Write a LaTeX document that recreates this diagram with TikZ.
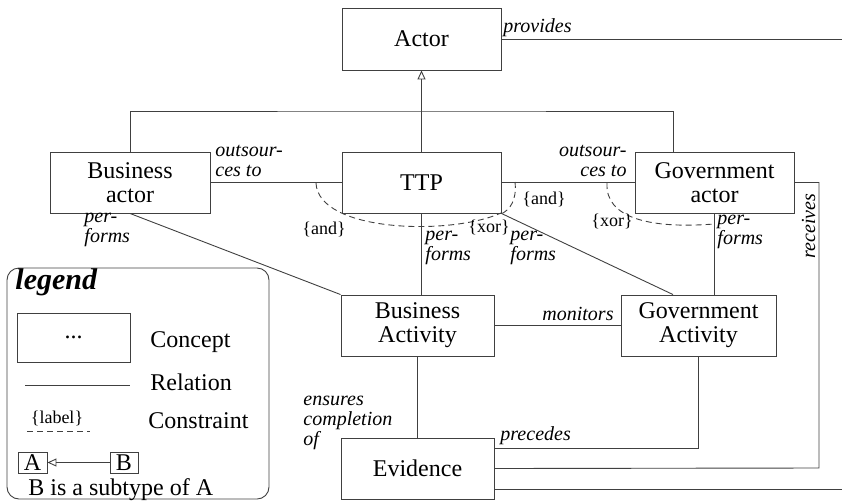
\documentclass[tikz,border=0pt]{standalone}
\usepackage{fontspec}
\setmainfont{Liberation Serif}
\usetikzlibrary{arrows.meta}

\begin{document}
\begin{tikzpicture}[x=1pt,y=-1pt,line width=0.9pt,draw=black!75,
  concept/.style={draw,align=center,inner sep=0pt,font=\fontsize{24}{24}\selectfont},
  rel/.style={inner sep=0pt,font=\fontsize{20}{20}\selectfont\itshape},
  cons/.style={inner sep=0pt,font=\fontsize{18}{18}\selectfont},
  constr/.style={dash pattern=on 6pt off 4pt},
  subtype/.style={-{Triangle[open,width=8pt,length=9pt]}}]
  \useasboundingbox (0,0) rectangle (842,501);

  % concepts
  \node[concept,minimum width=159pt,minimum height=62pt] (actor) at (421.5,39) {Actor};
  \node[concept,minimum width=160pt,minimum height=61pt] (bact) at (130,182.5) {Business\\actor};
  \node[concept,minimum width=159pt,minimum height=61pt] (ttp) at (421.5,182.5) {TTP};
  \node[concept,minimum width=159pt,minimum height=61pt] (gact) at (714.5,182.5) {Government\\actor};
  \node[concept,minimum width=153pt,minimum height=61pt] (bactv) at (417.5,325.5) {Business\\Activity};
  \node[concept,minimum width=155pt,minimum height=61pt] (gactv) at (698.5,325.5) {Government\\Activity};
  \node[concept,minimum width=153pt,minimum height=61pt] (evid) at (417.5,468.5) {Evidence};

  % subtypes of Actor
  \coordinate (bar) at (421.5,111);
  \coordinate (gtop) at (673,152);
  \draw[subtype] (ttp.north) -- (actor.south);
  \draw (bact.north) |- (bar) -| (gtop);

  % relations
  \draw (actor.east) -| (843,489) -- ([yshift=-20.5pt]evid.east);
  \node[rel,anchor=base west] (provides) at (503,32) {provides};
  \draw (bact.east) -- (ttp.west);
  \node[rel,anchor=north west,align=left] (outb) at (215,145) {outsour-\\ces to};
  \draw (ttp.east) -- (gact.west);
  \node[rel,anchor=north east,align=right] (outg) at (627,145) {outsour-\\ces to};
  \draw (gact.east) -| (819,468) -- (evid.east);
  \node[rel,rotate=90,anchor=base] (receives) at (815,226) {receives};
  \draw (bact.south) -- (bactv.north west);
  \node[rel,anchor=north west,align=left] (perfb) at (84,213) {per-\\forms};
  \draw (ttp.south) -- (ttp.south |- bactv.north);
  \node[rel,anchor=north west,align=left] (perft) at (425,231) {per-\\forms};
  \draw (ttp.south east) -- ([xshift=-25.5pt]gactv.north);
  \node[rel,anchor=north west,align=left] (perftg) at (510,231) {per-\\forms};
  \draw (gact.south) -- (gact.south |- gactv.north);
  \node[rel,anchor=north west,align=left] (perfg) at (717,215) {per-\\forms};
  \draw (bactv.east) -- (gactv.west);
  \node[rel,anchor=base east] (monitors) at (614,320) {monitors};
  \draw (bactv.south) -- (evid.north);
  \node[rel,anchor=north west,align=left] (ensures) at (303,396) {ensures\\completion\\of};
  \draw ([yshift=20.5pt]evid.east) -| (gactv.south);
  \node[rel,anchor=base west] (precedes) at (500,440) {precedes};

  % constraints
  \draw[constr] (316,183) .. controls (318,232) and (450,236) .. (501,213);
  \draw[constr] (515,182) .. controls (517,200) and (510,210) .. (501,214);
  \draw[constr] (607,183) .. controls (605,218) and (650,229) .. (714,224);
  \node[cons] (and1) at (324,229) {\{and\}};
  \node[cons] (xor1) at (489,227) {\{xor\}};
  \node[cons] (and2) at (544,199) {\{and\}};
  \node[cons] (xor2) at (612,221) {\{xor\}};

  % legend
  \draw[rounded corners=12pt] (7,268) rectangle (269,499);
  \node[anchor=base west,inner sep=0pt,font=\fontsize{30}{30}\selectfont\bfseries\itshape] (lgtitle) at (15,289) {legend};
  \node[concept,minimum width=113pt,minimum height=49pt] (lgcon) at (73.5,337.5) {...};
  \node[concept,draw=none,anchor=base west] (lgcont) at (150,347) {Concept};
  \coordinate (lgrl) at (25,385);
  \coordinate (lgrr) at (130,385);
  \draw (lgrl) -- (lgrr);
  \node[concept,draw=none,anchor=base west] (lgrelt) at (150,390) {Relation};
  \node[cons,anchor=base] (lglab) at (57,423) {\{label\}};
  \draw[constr] (27,431) -- (90,431);
  \node[concept,draw=none,anchor=base west] (lgconst) at (148,428) {Constraint};
  \node[concept,minimum width=29pt,minimum height=21pt] (lga) at (32.5,462.5) {A};
  \node[concept,minimum width=28pt,minimum height=21pt] (lgb) at (124,462.5) {B};
  \draw[subtype] (lgb.west) -- (lga.east);
  \node[concept,draw=none,anchor=base west] (lgsub) at (28,495) {B is a subtype of A};
\end{tikzpicture}
\end{document}
